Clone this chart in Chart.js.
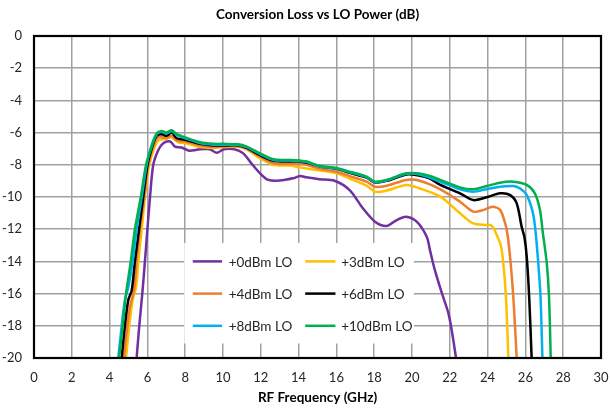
<!DOCTYPE html>
<html><head><meta charset="utf-8">
<script src="https://cdn.jsdelivr.net/npm/chart.js@4/dist/chart.umd.min.js"></script>
<style>html,body{margin:0;padding:0;background:#fff}</style>
</head><body>
<canvas id="c" width="610" height="414"></canvas>
<script>
const chartTitle = 'Conversion Loss vs LO Power (dB)';
const xAxisTitle = 'RF Frequency (GHz)';
const seriesLabels = ['+0dBm LO', '+3dBm LO', '+4dBm LO', '+6dBm LO', '+8dBm LO', '+10dBm LO'];
const seriesColors = ['#7030A0', '#FFC000', '#ED7D31', '#000000', '#00B0F0', '#00B050'];

const freq0 = [5.43,5.57,5.73,5.87,6.0,6.14,6.31,6.58,6.84,7.2,7.46,7.81,8.2,8.78,9.3,9.67,10.05,10.6,11.07,11.5,11.96,12.4,13.0,13.7,14.07,14.4,15.1,15.9,16.7,17.4,18.04,18.66,19.19,19.68,20.25,20.78,20.95,21.2,21.56,21.92,22.1,22.33];
const loss0 = [-20,-18,-16,-14,-12,-10,-8,-7.08,-6.66,-6.55,-6.87,-6.93,-7.12,-7.04,-7.04,-7.25,-7.04,-7.04,-7.29,-7.91,-8.53,-8.94,-8.98,-8.84,-8.7,-8.78,-8.9,-8.99,-9.57,-10.7,-11.53,-11.8,-11.43,-11.22,-11.53,-12.47,-13.3,-14.5,-15.9,-17.2,-18.26,-20];

const freq3 = [4.87,5.04,5.22,5.4,5.52,5.7,5.87,6.1,6.4,6.63,6.93,7.29,7.64,8.0,8.78,9.5,10.0,10.8,11.25,11.96,12.66,13.55,14.07,15.13,16.0,16.7,17.6,18.04,18.66,19.7,20.4,21.5,22.54,23.24,23.95,24.15,24.3,24.5,24.7,24.83,24.97,25.1];
const loss3 = [-20,-18,-16.4,-15.6,-14,-12,-10,-8,-6.85,-6.45,-6.4,-6.3,-6.6,-6.65,-6.9,-6.95,-6.9,-6.9,-7.05,-7.6,-8.0,-8.05,-8.16,-8.35,-8.53,-8.85,-9.3,-9.67,-9.6,-9.25,-9.46,-9.98,-11.01,-11.64,-11.74,-11.74,-11.9,-12.4,-13.0,-14.1,-16.2,-20];

const freq4 = [4.76,4.94,5.08,5.29,5.43,5.61,5.84,6.05,6.33,6.56,6.84,7.02,7.29,7.55,8.0,8.78,9.5,10.0,10.8,11.25,11.96,12.66,13.55,14.07,14.43,15.13,16.0,16.7,17.6,18.04,18.66,19.7,20.4,21.5,22.54,23.24,23.8,24.25,24.66,24.93,25.05,25.22,25.36,25.54];
const loss4 = [-20,-18,-16.8,-15.8,-14,-12,-10,-8,-6.8,-6.3,-6.3,-6.35,-6.2,-6.5,-6.55,-6.8,-6.9,-6.85,-6.85,-7.0,-7.5,-7.9,-7.95,-7.95,-8.0,-8.25,-8.43,-8.7,-9.05,-9.36,-9.3,-8.94,-8.99,-9.52,-10.29,-10.91,-10.8,-10.6,-10.8,-11.64,-12.3,-14.1,-16.2,-20];

const freq6 = [4.64,4.81,4.99,5.17,5.34,5.56,5.78,6.01,6.28,6.49,6.75,7.02,7.29,7.55,8.0,8.78,9.5,10.0,10.8,11.25,11.96,12.66,13.55,14.07,14.43,15.13,16.0,16.7,17.6,18.04,18.66,19.7,20.3,20.95,21.5,22.54,23.24,23.95,24.66,25.2,25.54,25.8,25.95,26.07,26.2,26.33];
const loss6 = [-20,-18,-16.4,-15.8,-14,-12,-10,-8,-6.8,-6.2,-6.1,-6.2,-6.0,-6.35,-6.45,-6.7,-6.8,-6.8,-6.8,-6.95,-7.4,-7.75,-7.8,-7.8,-7.88,-8.1,-8.25,-8.5,-8.8,-9.1,-9.0,-8.6,-8.65,-8.85,-9.25,-9.77,-10.19,-10.02,-9.77,-9.88,-10.4,-11.84,-12.5,-13.7,-16.2,-20];

const freq8 = [4.46,4.64,4.81,4.99,5.22,5.43,5.7,5.96,6.23,6.49,6.75,7.02,7.29,7.55,8.0,8.78,9.5,10.0,10.8,11.25,11.96,12.66,13.55,14.07,14.43,15.13,16.0,16.7,17.6,18.04,18.66,19.7,20.4,21.5,22.54,23.24,23.95,24.66,25.36,25.7,26.07,26.4,26.55,26.68,26.8,26.9];
const loss8 = [-20,-18,-16.4,-15.6,-14,-12,-10,-8,-6.75,-6.1,-5.95,-6.05,-5.9,-6.15,-6.35,-6.65,-6.75,-6.75,-6.77,-6.9,-7.33,-7.7,-7.74,-7.77,-7.83,-8.1,-8.23,-8.46,-8.77,-9.08,-8.97,-8.56,-8.6,-9.05,-9.52,-9.67,-9.52,-9.36,-9.32,-9.46,-9.88,-11.0,-12.3,-14.1,-16.2,-20];

const freq10 = [4.5,4.69,4.87,5.12,5.34,5.65,5.93,6.23,6.49,6.75,7.02,7.29,7.55,8.0,8.78,9.5,10.0,10.8,11.25,11.96,12.66,13.55,14.07,14.43,15.13,16.0,16.7,17.6,18.04,18.66,19.7,20.3,20.95,21.5,22.54,23.24,23.95,24.66,25.36,26.07,26.5,26.77,26.92,27.13,27.25,27.34];
const loss10 = [-20,-18,-16,-14,-12,-10,-8,-6.87,-6.05,-5.9,-6.0,-5.85,-6.1,-6.3,-6.6,-6.7,-6.7,-6.73,-6.87,-7.29,-7.66,-7.7,-7.74,-7.8,-8.07,-8.2,-8.43,-8.74,-9.05,-8.94,-8.53,-8.53,-8.7,-8.94,-9.4,-9.52,-9.32,-9.11,-9.05,-9.25,-9.77,-10.8,-12.2,-14.1,-16.2,-20];

const xTicksMin = 0, xTicksMax = 30, xStep = 2;
const yTicksMin = -20, yTicksMax = 0, yStep = 2;

const freqs = [freq0, freq3, freq4, freq6, freq8, freq10];
const losses = [loss0, loss3, loss4, loss6, loss8, loss10];

const FONT = 'Lato, "Open Sans", "Liberation Sans", sans-serif';

const datasets = seriesLabels.map((lab, i) => ({
  label: lab,
  data: freqs[i].map((f, k) => ({x: f, y: losses[i][k]})),
  borderColor: seriesColors[i],
  backgroundColor: seriesColors[i],
  borderWidth: 2.5,
  pointRadius: 0,
  fill: false,
  tension: 0.3,
  order: seriesLabels.length - i
}));

const framePlugin = {
  id: 'frame',
  afterDatasetsDraw(chart) {
    const {ctx, chartArea: a} = chart;
    ctx.save();
    ctx.strokeStyle = '#000';
    ctx.lineWidth = 2.2;
    ctx.strokeRect(a.left, a.top, a.right - a.left, a.bottom - a.top);
    ctx.restore();
  }
};

const legendPlugin = {
  id: 'boxLegend',
  afterDraw(chart) {
    const {ctx} = chart;
    const xs = chart.scales.x, ys = chart.scales.y;
    const x0 = xs.getPixelForValue(7.95), x1 = xs.getPixelForValue(20.1);
    const y0 = ys.getPixelForValue(-12.85), y1 = ys.getPixelForValue(-19.1);
    ctx.save();
    ctx.fillStyle = '#fff';
    ctx.fillRect(x0, y0, x1 - x0, y1 - y0);
    const rows = [-14, -16, -18];
    const cols = [[8.4, 9.95, 10.3], [14.35, 15.95, 16.25]];
    ctx.font = '13.5px ' + FONT;
    ctx.textBaseline = 'middle';
    ctx.textAlign = 'left';
    seriesLabels.forEach((lab, i) => {
      const r = Math.floor(i / 2), c = i % 2;
      const y = ys.getPixelForValue(rows[r]);
      ctx.strokeStyle = seriesColors[i];
      ctx.lineWidth = 2.5;
      ctx.beginPath();
      ctx.moveTo(xs.getPixelForValue(cols[c][0]), y);
      ctx.lineTo(xs.getPixelForValue(cols[c][1]), y);
      ctx.stroke();
      ctx.fillStyle = '#262626';
      ctx.fillText(lab, xs.getPixelForValue(cols[c][2]), y + 1);
    });
    ctx.restore();
  }
};

new Chart(document.getElementById('c'), {
  type: 'line',
  data: {datasets},
  options: {
    responsive: false,
    animation: false,
    devicePixelRatio: 1,
    layout: {padding: {left: 0, right: 9, top: 0, bottom: 0}},
    plugins: {legend: {display: false}, title: {display: false}, tooltip: {enabled: false}},
    scales: {
      x: {
        type: 'linear', position: 'bottom', min: xTicksMin, max: xTicksMax,
        ticks: {stepSize: xStep, color: '#262626', font: {family: FONT, size: 13}, padding: 12, maxRotation: 0},
        grid: {color: '#a0a0a0', lineWidth: 1.5, drawTicks: false},
        border: {display: false},
        title: {display: true, text: xAxisTitle, color: '#000', font: {family: FONT, size: 13.5, weight: 'bold'}, padding: {top: 0, bottom: 8}},
        afterFit(s) { s.height = 56; s.paddingLeft = 0; s.paddingRight = 0; }
      },
      xTop: {
        type: 'linear', position: 'top', min: xTicksMin, max: xTicksMax,
        ticks: {display: false},
        grid: {display: false, drawTicks: false},
        border: {display: false},
        title: {display: true, text: chartTitle, color: '#000', font: {family: FONT, size: 13.5, weight: 'bold'}, padding: {top: 7, bottom: 0}},
        afterFit(s) { s.height = 36; s.paddingLeft = 0; s.paddingRight = 0; }
      },
      y: {
        type: 'linear', min: yTicksMin, max: yTicksMax,
        ticks: {stepSize: yStep, color: '#262626', font: {family: FONT, size: 13}, padding: 12},
        grid: {color: '#a0a0a0', lineWidth: 1.5, drawTicks: false},
        border: {display: false},
        afterFit(s) { s.width = 34; s.paddingTop = 0; s.paddingBottom = 0; }
      }
    }
  },
  plugins: [framePlugin, legendPlugin]
});
</script>
</body></html>
